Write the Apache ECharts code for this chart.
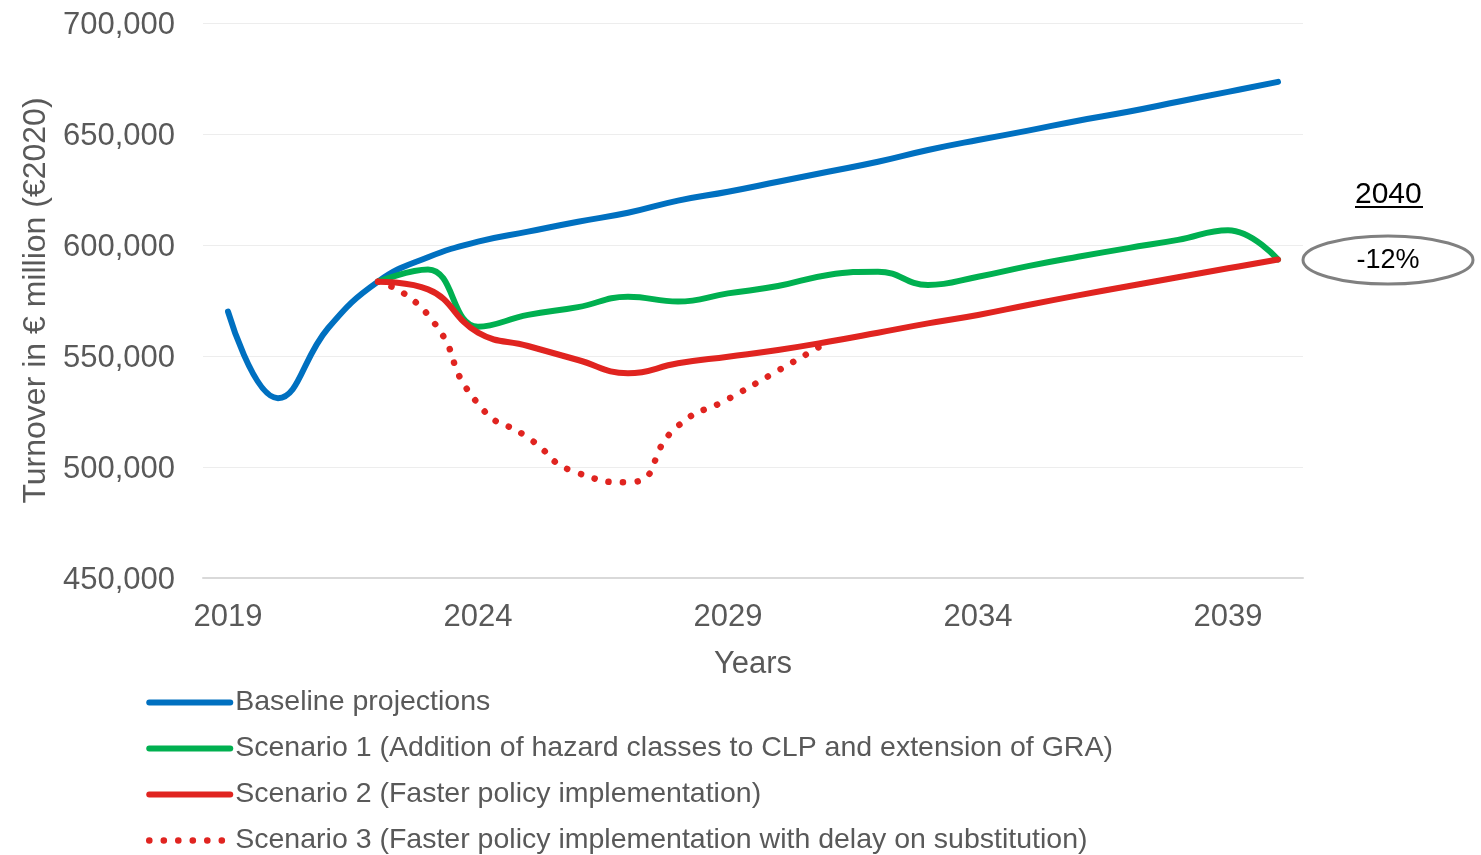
<!DOCTYPE html>
<html>
<head>
<meta charset="utf-8">
<script src="https://cdn.jsdelivr.net/npm/echarts@6/dist/echarts.min.js"></script>
<style>
  html, body { margin: 0; padding: 0; background: #ffffff; }
  #chart { width: 1481px; height: 855px; }
</style>
</head>
<body>
<div id="chart"></div>
<script>
const years = ['2019','2020','2021','2022','2023','2024','2025','2026','2027','2028','2029','2030','2031','2032','2033','2034','2035','2036','2037','2038','2039','2040'];
const baseline = [570000, 531000, 562500, 583500, 594500, 601500, 606000, 610500, 614500, 620000, 624000, 628500, 633000, 637500, 642800, 647300, 651500, 656000, 660000, 664500, 669000, 673500];
const scenario1 = [null, null, null, 583500, 589000, 563200, 568500, 572000, 576700, 574500, 578200, 581500, 586500, 588000, 582000, 585700, 590500, 594700, 598600, 602300, 606700, 593500];
const scenario2 = [null, null, null, 583500, 580000, 560500, 554500, 548200, 542200, 546700, 549700, 552700, 556400, 560500, 564700, 568500, 573000, 577300, 581400, 585500, 589500, 593500];
const scenario3 = [null, null, null, 583500, 568500, 528500, 513200, 497300, 493100, 518500, 530600, 543400, 556400, null, null, null, null, null, null, null, null, null];
const seriesNames = [
  'Baseline projections',
  'Scenario 1 (Addition of hazard classes to CLP and extension of GRA)',
  'Scenario 2 (Faster policy implementation)',
  'Scenario 3 (Faster policy implementation with delay on substitution)'
];
const seriesColors = ['#0070C0', '#00B050', '#E02420', '#E02420'];
const seriesDotted = [false, false, false, true];
const yTicks = { min: 450000, max: 700000, step: 50000 };
const annotationYear = '2040';
const annotationChange = '-12%';

const FONT = 'Liberation Sans, Arial, sans-serif';
const GREY = '#595959';
const DOT_DASH = [0.1, 14.4];

const chart = echarts.init(document.getElementById('chart'), null, { renderer: 'canvas' });

function lineSeries(i, data) {
  return {
    name: seriesNames[i],
    type: 'line',
    data: data,
    smooth: seriesDotted[i] ? 0.6 : 0.45,
    symbol: 'none',
    showSymbol: false,
    lineStyle: {
      color: seriesColors[i],
      width: seriesDotted[i] ? 6.5 : 6,
      cap: 'round',
      join: 'round',
      type: seriesDotted[i] ? DOT_DASH : 'solid'
    },
    itemStyle: { color: seriesColors[i] },
    emphasis: { disabled: true }
  };
}

const legendData = seriesNames.map(function (n, i) {
  return {
    name: n,
    itemStyle: { color: 'rgba(0,0,0,0)', borderColor: 'rgba(0,0,0,0)', borderWidth: 0, opacity: 0 },
    lineStyle: {
      color: seriesColors[i],
      width: seriesDotted[i] ? 6.5 : 6,
      cap: 'round',
      type: seriesDotted[i] ? DOT_DASH : 'solid'
    }
  };
});

chart.setOption({
  animation: false,
  backgroundColor: '#ffffff',
  textStyle: { fontFamily: FONT },
  grid: { left: 203, right: 178, top: 23, bottom: 277, containLabel: false },
  legend: {
    orient: 'vertical',
    left: 146,
    top: 688,
    width: 1200,
    height: 200,
    padding: 0,
    itemWidth: 81,
    itemHeight: 6,
    itemGap: 17,
    data: legendData,
    textStyle: { color: GREY, fontSize: 28.5, fontFamily: FONT, lineHeight: 28 }
  },
  xAxis: {
    type: 'category',
    data: years,
    boundaryGap: true,
    name: 'Years',
    nameLocation: 'middle',
    nameGap: 71,
    nameTextStyle: { color: GREY, fontSize: 31, fontFamily: FONT },
    axisLine: { show: true, lineStyle: { color: '#d9d9d9', width: 2 } },
    axisTick: { show: false },
    axisLabel: { interval: 4, color: GREY, fontSize: 31, fontFamily: FONT, margin: 24 },
    splitLine: { show: false }
  },
  yAxis: {
    type: 'value',
    min: yTicks.min,
    max: yTicks.max,
    interval: yTicks.step,
    name: 'Turnover in € million (€2020)',
    nameLocation: 'middle',
    nameRotate: 90,
    nameGap: 150,
    nameTextStyle: { color: GREY, fontSize: 32, fontFamily: FONT },
    axisLine: { show: false },
    axisTick: { show: false },
    axisLabel: {
      margin: 28,
      formatter: function (v) { return '{a|' + v.toLocaleString('en-US') + '}'; },
      rich: { a: { color: GREY, fontSize: 31, fontFamily: FONT, padding: [4, 0, 0, 0] } }
    },
    splitLine: { show: true, lineStyle: { color: '#ededed', width: 1 } }
  },
  series: [
    lineSeries(0, baseline),
    lineSeries(1, scenario1),
    lineSeries(2, scenario2),
    lineSeries(3, scenario3)
  ],
  graphic: [
    {
      type: 'text',
      left: 1355, top: 180,
      style: { text: annotationYear, fill: '#000000', fontSize: 30, fontFamily: FONT }
    },
    {
      type: 'line',
      shape: { x1: 1355, y1: 207, x2: 1423, y2: 207 },
      style: { stroke: '#000000', lineWidth: 2 }
    },
    {
      type: 'ellipse',
      shape: { cx: 1388, cy: 260, rx: 85, ry: 24 },
      style: { stroke: '#808080', lineWidth: 3, fill: 'rgba(0,0,0,0)' }
    },
    {
      type: 'text',
      x: 1388, y: 261,
      style: { text: annotationChange, fill: '#000000', fontSize: 27, fontFamily: FONT, align: 'center', verticalAlign: 'middle' }
    }
  ]
});
</script>
</body>
</html>
